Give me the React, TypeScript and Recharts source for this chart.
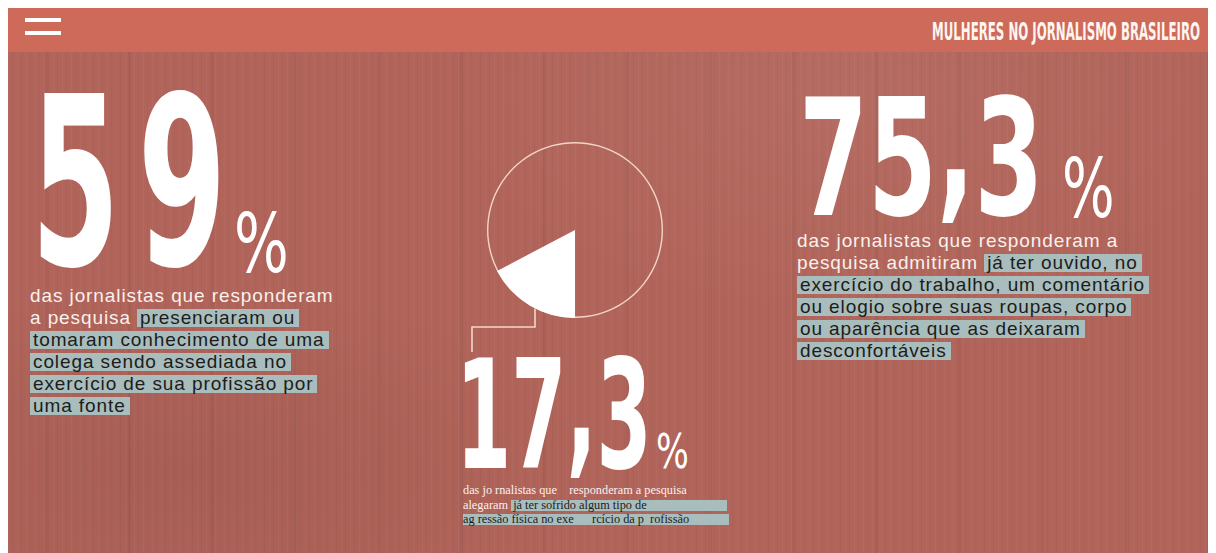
import { PieChart, Pie, Cell, Customized } from "recharts";

const headerTitle = "MULHERES NO JORNALISMO BRASILEIRO";

// big figures shown on the page
const figureLabels = ["59", "75,3", "17,3"];

// pie: share of journalists who suffered physical aggression
const sliceNames = ["agressão física", "demais"];
const sliceValues = [17.3, 82.7];
const sliceColors = ["#ffffff", "transparent"];

const pieData = sliceNames.map((name, i) => ({ name, value: sliceValues[i] }));
const ringData = [{ name: "total", value: 100 }];

const BG = "#b1645a";
const HEADER = "#cd6a5a";
const HL = "#a9bdbc";
const INK = "#1c1c1c";
const WHITE = "#f9f1ec";
const LINE = "#f3d6c8";

const bigFont = "'DejaVu Sans Condensed', 'DejaVu Sans', sans-serif";
const bodyFont = "'Liberation Sans', Arial, sans-serif";

// highlight band slightly shorter than the line so lines keep a small gap
const hl = {
  backgroundImage: `linear-gradient(transparent 0px, transparent 2px, ${HL} 2px, ${HL} calc(100% - 1px), transparent calc(100% - 1px))`,
  color: INK,
  padding: "0 4px 0 3px",
  WebkitBoxDecorationBreak: "clone",
  boxDecorationBreak: "clone",
} as const;

const woodTexture = [
  "repeating-linear-gradient(90deg, rgba(255,255,255,0.03) 0px, rgba(255,255,255,0.03) 1px, transparent 1px, transparent 4px, rgba(0,0,0,0.03) 4px, rgba(0,0,0,0.03) 5px, transparent 5px, transparent 9px)",
  "repeating-linear-gradient(90deg, transparent 0px, transparent 37px, rgba(0,0,0,0.04) 37px, rgba(0,0,0,0.04) 40px, transparent 40px, transparent 83px)",
  "radial-gradient(ellipse at 15% 85%, rgba(0,0,0,0.06), transparent 30%)",
  "radial-gradient(ellipse at 70% 15%, rgba(255,255,255,0.05), transparent 35%)",
].join(", ");

// pie geometry inside its own little chart
const PIE_W = 300;
const PIE_H = 300;
const PCX = 150;
const PCY = 150;
const R = 88;

function Connector() {
  const sx = PCX - 40;
  const sy = PCY + Math.sqrt(R * R - 40 * 40);
  const pts = [
    [sx, sy],
    [sx, PCY + 97],
    [PCX - 103, PCY + 97],
    [PCX - 103, PCY + 122],
  ]
    .map((p) => p.join(","))
    .join(" ");
  return <polyline points={pts} fill="none" stroke={LINE} strokeWidth={1.6} />;
}

function Figure({
  text,
  x,
  y,
  size,
  sx,
  spacing = 0,
  weight = 700,
  lift = 0,
}: {
  text: string;
  x: number;
  y: number;
  size: number;
  sx: number;
  spacing?: number;
  weight?: number;
  lift?: number;
}) {
  const parts = text.split(",");
  return (
    <text
      transform={`translate(${x},${y}) scale(${sx},1)`}
      fontFamily={bigFont}
      fontWeight={weight}
      fontSize={size}
      letterSpacing={spacing}
      fill="#ffffff"
    >
      {parts.length === 2 ? (
        <>
          <tspan>{parts[0]}</tspan>
          <tspan dy={-lift}>,</tspan>
          <tspan dy={lift}>{parts[1]}</tspan>
        </>
      ) : (
        text
      )}
    </text>
  );
}

const paraStyle = {
  position: "absolute",
  fontFamily: bodyFont,
  fontSize: 19,
  lineHeight: "22px",
  letterSpacing: 0.9,
  color: WHITE,
  whiteSpace: "nowrap",
} as const;

export default function App() {
  return (
    <div
      style={{
        position: "relative",
        width: 1200,
        height: 545,
        overflow: "hidden",
        backgroundColor: BG,
        backgroundImage: woodTexture,
      }}
    >
      {/* header */}
      <div style={{ position: "absolute", left: 0, top: 0, width: 1200, height: 44, background: HEADER }} />
      <div style={{ position: "absolute", left: 17, top: 10, width: 36, height: 3.5, background: "#fff" }} />
      <div style={{ position: "absolute", left: 17, top: 23, width: 36, height: 3.5, background: "#fff" }} />

      <svg width={1200} height={545} style={{ position: "absolute", left: 0, top: 0 }}>
        <text
          x={924}
          y={32}
          textLength={268}
          lengthAdjust="spacingAndGlyphs"
          fontFamily={bigFont}
          fontWeight={700}
          fontSize={25}
          fill="#fdf5f0"
        >
          {headerTitle}
        </text>

        <Figure text={figureLabels[0]} x={23} y={257} size={236} sx={0.6} spacing={30} />
        <Figure text="%" x={226} y={264} size={82} sx={0.78} weight={400} />

        <Figure text={figureLabels[1]} x={791} y={207} size={162} sx={0.68} lift={15} />
        <Figure text="%" x={1054} y={209} size={82} sx={0.75} weight={400} />

        <Figure text={figureLabels[2]} x={448} y={460} size={152} sx={0.58} lift={12} />
        <Figure text="%" x={648} y={460} size={48} sx={0.8} weight={400} />
      </svg>

      {/* pie */}
      <div style={{ position: "absolute", left: 567 - PCX, top: 222 - PCY }}>
        <PieChart width={PIE_W} height={PIE_H} margin={{ top: 0, right: 0, bottom: 0, left: 0 }}>
          <Pie
            data={ringData}
            dataKey="value"
            cx={PCX}
            cy={PCY}
            innerRadius={R - 1.4}
            outerRadius={R}
            stroke="none"
            fill={LINE}
            isAnimationActive={false}
          />
          <Pie
            data={pieData}
            dataKey="value"
            cx={PCX}
            cy={PCY}
            outerRadius={R}
            startAngle={270}
            endAngle={-90}
            stroke="none"
            isAnimationActive={false}
          >
            {pieData.map((d, i) => (
              <Cell key={d.name} fill={sliceColors[i]} />
            ))}
          </Pie>
          <Customized component={<Connector />} />
        </PieChart>
      </div>

      {/* left text */}
      <div style={{ ...paraStyle, left: 22, top: 277 }}>
        das jornalistas que responderam
        <br />a pesquisa{" "}
        <span style={hl}>
          presenciaram ou
          <br />
          tomaram conhecimento de uma
          <br />
          colega sendo assediada no
          <br />
          exercício de sua profissão por
          <br />
          uma fonte
        </span>
      </div>

      {/* right text */}
      <div style={{ ...paraStyle, left: 789, top: 222 }}>
        das jornalistas que responderam a
        <br />
        pesquisa admitiram{" "}
        <span style={hl}>
          já ter ouvido, no
          <br />
          exercício do trabalho, um comentário
          <br />
          ou elogio sobre suas roupas, corpo
          <br />
          ou aparência que as deixaram
          <br />
          desconfortáveis
        </span>
      </div>

      {/* center text */}
      <div
        style={{
          position: "absolute",
          left: 455,
          top: 475,
          fontFamily: "'Liberation Serif', 'Times New Roman', serif",
          fontSize: 12.3,
          lineHeight: "14.5px",
          color: WHITE,
          whiteSpace: "pre",
        }}
      >
        <div>das jo rnalistas que    responderam a pesquisa</div>
        <div>
          alegaram{" "}
          <span
            style={{
              display: "inline-block",
              width: 216,
              height: 11,
              lineHeight: "11px",
              background: HL,
              color: INK,
              paddingLeft: 2,
              boxSizing: "border-box",
            }}
          >
            já ter sofrido algum tipo de
          </span>
        </div>
        <div>
          <span
            style={{
              display: "inline-block",
              width: 266,
              height: 11,
              lineHeight: "11px",
              background: HL,
              color: INK,
              boxSizing: "border-box",
            }}
          >
            ag ressão física no exe      rcício da p  rofissão
          </span>
        </div>
      </div>
    </div>
  );
}
